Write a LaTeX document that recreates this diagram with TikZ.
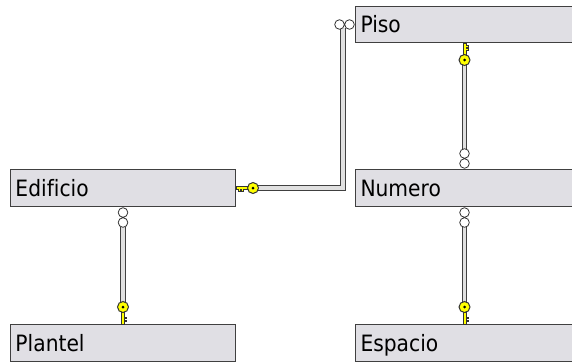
\documentclass[tikz,border=0pt]{standalone}
\usepackage{fontspec}
\setmainfont{DejaVu Sans}[FakeStretch=0.9,Ligatures=CommonOff]
\usetikzlibrary{positioning}
\definecolor{tblfill}{RGB}{224,223,228}
\definecolor{tblline}{RGB}{64,64,64}
\definecolor{keyyellow}{RGB}{255,255,0}

\begin{document}
\begin{tikzpicture}[x=1pt,y=-1pt,
    table node/.style={draw=tblline,fill=tblfill,line width=1pt,inner xsep=5pt,inner ysep=0pt,
      minimum height=37pt,text width=#1,align=left,text height=16pt,text depth=0pt,
      font=\fontsize{22.5}{26}\selectfont},
    pipe/.style={draw=black!75,line width=1.2pt,double=black!12,double distance=3.5pt},
    pics/fkey/.style={code={
      \filldraw[fill=keyyellow,draw=black!80,line width=0.6pt]
        (0,{-1.4*(#1)}) -- (12,{-1.4*(#1)}) -- (12,{1.4*(#1)}) -- (7,{1.4*(#1)}) -- (7,{3.6*(#1)})
        -- (5.5,{3.6*(#1)}) -- (5.5,{1.4*(#1)}) -- (4,{1.4*(#1)}) -- (4,{3.6*(#1)})
        -- (2.5,{3.6*(#1)}) -- (2.5,{1.4*(#1)}) -- (0,{1.4*(#1)}) -- cycle;
      \filldraw[fill=keyyellow,draw=black!80,line width=1pt] (17,0) circle (5.5pt);
      \fill[black] (17,0) circle (1.5pt);
    }},
    pics/many/.style={code={
      \filldraw[fill=white,draw=black!80,line width=0.8pt] (5.5,0) circle (4.8pt) (15.5,0) circle (4.8pt);
    }},
  ]
  \useasboundingbox (0,0) rectangle (572,362);
  \clip (0,0) rectangle (572,362);

  \node[table node=215pt,anchor=north west] (edificio) at (10,169) {Edificio};
  \node[table node=215pt] (plantel) [below=117pt of edificio] {Plantel};
  \node[table node=208pt] (numero) [right=119pt of edificio] {Numero};
  \node[table node=208pt,minimum height=36pt] (piso) [above=126pt of numero] {Piso};
  \node[table node=208pt] (espacio) [below=117pt of numero] {Espacio};

  % relationship lines
  \draw[pipe,shorten <=22pt,shorten >=3pt] (edificio.east) -| ([xshift=-12pt]piso.west);
  \path
    (piso.south) edge[pipe,shorten <=22pt,shorten >=20pt] (numero.north)
    (numero.south) edge[pipe,shorten <=20pt,shorten >=22pt] (espacio.north)
    (edificio.south) edge[pipe,shorten <=20pt,shorten >=22pt] (plantel.north)
  ;

  % key ends
  \pic[rotate=0] at (edificio.east) {fkey=1};
  \pic[rotate=-90] at (piso.south) {fkey=-1};
  \pic[rotate=90] at (plantel.north) {fkey=1};
  \pic[rotate=90] at (espacio.north) {fkey=1};

  % many ends
  \pic[rotate=180] at (piso.west) {many};
  \pic[rotate=90] at (numero.north) {many};
  \pic[rotate=-90] at (numero.south) {many};
  \pic[rotate=-90] at (edificio.south) {many};
\end{tikzpicture}
\end{document}
